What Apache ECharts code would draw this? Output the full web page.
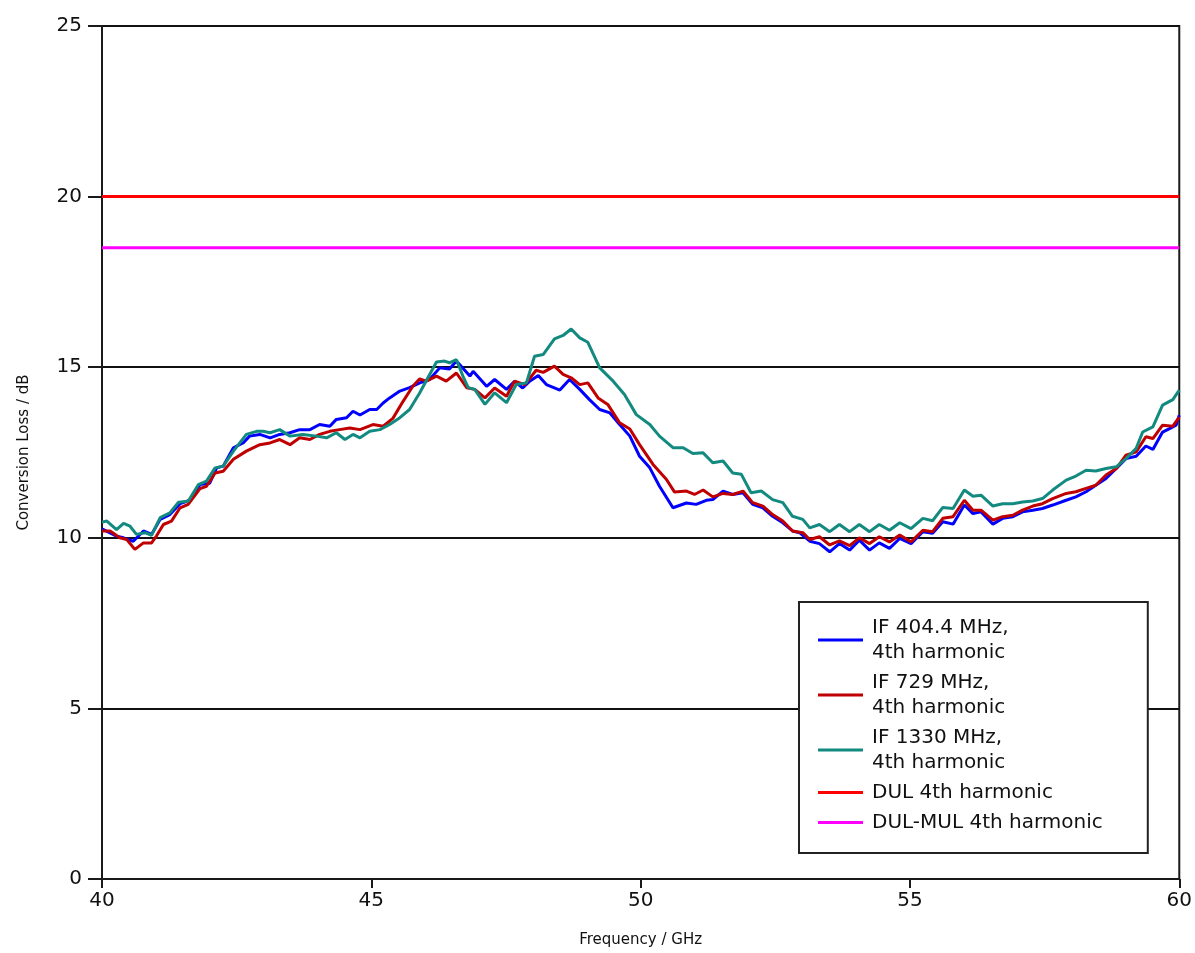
<!DOCTYPE html>
<html>
<head>
<meta charset="utf-8">
<script src="https://cdn.jsdelivr.net/npm/echarts@6/dist/echarts.min.js"></script>
<style>
html,body{margin:0;padding:0;background:#fff;}
#chart{width:1195px;height:953px;}
</style>
</head>
<body>
<div id="chart"></div>
<script>
// Frequency / GHz ticks and conversion loss / dB ticks
const xTicks = [40, 45, 50, 55, 60];
const yTicks = [0, 5, 10, 15, 20, 25];

const seriesNames = [
  'IF 404.4 MHz,\n4th harmonic',
  'IF 729 MHz,\n4th harmonic',
  'IF 1330 MHz,\n4th harmonic',
  'DUL 4th harmonic',
  'DUL-MUL 4th harmonic'
];

// [frequency GHz, conversion loss dB]
const if404 = [
[40.00,10.26],[40.27,10.05],[40.40,10.0],[40.58,9.9],[40.77,10.2],[40.92,10.1],[41.08,10.54],[41.26,10.68],[41.45,11.0],[41.63,11.1],
[41.82,11.56],[42.00,11.6],[42.13,12.05],[42.25,12.1],[42.44,12.64],[42.62,12.78],[42.74,12.98],[42.93,13.03],[43.12,12.93],[43.30,13.03],
[43.49,13.08],[43.67,13.17],[43.86,13.17],[44.04,13.32],[44.23,13.27],[44.35,13.47],[44.54,13.52],[44.66,13.71],[44.79,13.6],[44.97,13.76],
[45.10,13.76],[45.22,13.95],[45.34,14.1],[45.53,14.3],[45.71,14.4],[45.90,14.54],[46.08,14.64],[46.27,14.98],[46.45,14.95],[46.58,15.18],
[46.83,14.74],[46.89,14.88],[47.14,14.44],[47.29,14.64],[47.51,14.35],[47.66,14.59],[47.81,14.39],[47.94,14.59],[48.10,14.76],[48.25,14.49],
[48.50,14.33],[48.68,14.64],[48.87,14.35],[49.05,14.05],[49.24,13.76],[49.43,13.66],[49.61,13.32],[49.80,12.98],[49.98,12.39],[50.17,12.05],
[50.35,11.51],[50.60,10.88],[50.85,11.02],[51.03,10.98],[51.22,11.1],[51.34,11.12],[51.53,11.37],[51.71,11.27],[51.90,11.32],[52.08,10.98],
[52.27,10.88],[52.45,10.63],[52.64,10.44],[52.82,10.2],[52.95,10.15],[53.14,9.9],[53.32,9.83],[53.51,9.59],[53.69,9.83],[53.88,9.64],
[54.06,9.93],[54.25,9.64],[54.43,9.85],[54.62,9.69],[54.81,9.98],[55.02,9.83],[55.24,10.18],[55.42,10.13],[55.61,10.47],[55.80,10.4],
[56.01,10.96],[56.17,10.71],[56.32,10.76],[56.54,10.4],[56.72,10.57],[56.91,10.62],[57.09,10.76],[57.28,10.81],[57.46,10.86],[57.65,10.96],
[57.90,11.1],[58.08,11.2],[58.27,11.35],[58.45,11.54],[58.64,11.74],[58.83,12.03],[59.01,12.32],[59.20,12.39],[59.38,12.69],[59.51,12.59],
[59.69,13.1],[59.82,13.2],[59.94,13.3],[60.00,13.59]
];

const if729 = [
[40.00,10.2],[40.15,10.2],[40.33,10.0],[40.46,9.95],[40.61,9.66],[40.77,9.85],[40.92,9.85],[41.01,10.05],[41.14,10.39],[41.29,10.49],
[41.45,10.88],[41.60,10.98],[41.82,11.44],[41.94,11.51],[42.10,11.9],[42.25,11.95],[42.44,12.3],[42.68,12.54],[42.93,12.73],[43.12,12.78],
[43.30,12.88],[43.49,12.73],[43.67,12.93],[43.86,12.88],[44.04,13.03],[44.23,13.12],[44.41,13.17],[44.60,13.22],[44.79,13.17],[45.03,13.32],
[45.22,13.27],[45.40,13.5],[45.59,14.0],[45.77,14.44],[45.90,14.66],[46.02,14.59],[46.21,14.74],[46.39,14.59],[46.58,14.83],[46.77,14.4],
[46.92,14.35],[47.11,14.1],[47.29,14.39],[47.51,14.15],[47.66,14.59],[47.85,14.49],[48.06,14.91],[48.19,14.85],[48.40,15.03],[48.56,14.79],
[48.71,14.69],[48.87,14.49],[49.02,14.54],[49.21,14.1],[49.39,13.91],[49.61,13.37],[49.80,13.19],[49.98,12.73],[50.23,12.15],[50.48,11.71],
[50.63,11.34],[50.85,11.37],[51.00,11.27],[51.16,11.4],[51.34,11.2],[51.53,11.3],[51.71,11.27],[51.90,11.37],[52.08,11.03],[52.27,10.93],
[52.45,10.68],[52.64,10.49],[52.82,10.2],[53.01,10.15],[53.14,9.95],[53.32,10.03],[53.51,9.79],[53.69,9.91],[53.88,9.77],[54.06,10.0],
[54.25,9.83],[54.43,10.03],[54.62,9.88],[54.81,10.08],[55.02,9.88],[55.24,10.22],[55.42,10.18],[55.61,10.57],[55.80,10.62],[56.01,11.1],
[56.17,10.81],[56.32,10.81],[56.54,10.52],[56.72,10.62],[56.91,10.66],[57.09,10.81],[57.28,10.93],[57.46,11.0],[57.65,11.15],[57.90,11.3],
[58.08,11.35],[58.27,11.45],[58.45,11.54],[58.64,11.84],[58.83,12.03],[59.01,12.42],[59.20,12.52],[59.38,12.96],[59.51,12.91],[59.69,13.3],
[59.88,13.27],[60.00,13.54]
];

const if1330 = [
[40.00,10.46],[40.09,10.49],[40.27,10.24],[40.40,10.42],[40.52,10.34],[40.64,10.1],[40.80,10.15],[40.92,10.07],[41.08,10.59],[41.26,10.73],
[41.42,11.04],[41.60,11.07],[41.79,11.56],[41.94,11.66],[42.10,12.05],[42.25,12.1],[42.44,12.54],[42.68,13.03],[42.87,13.12],[42.99,13.12],
[43.12,13.08],[43.30,13.17],[43.49,12.98],[43.73,13.03],[43.98,12.98],[44.17,12.93],[44.35,13.08],[44.51,12.88],[44.66,13.03],[44.79,12.93],
[44.97,13.12],[45.16,13.17],[45.34,13.32],[45.53,13.52],[45.71,13.76],[45.90,14.25],[46.05,14.69],[46.21,15.15],[46.36,15.18],[46.45,15.13],
[46.58,15.22],[46.70,14.74],[46.80,14.4],[46.92,14.35],[47.11,13.91],[47.29,14.25],[47.51,13.96],[47.69,14.49],[47.88,14.54],[48.03,15.32],
[48.19,15.37],[48.40,15.83],[48.56,15.93],[48.71,16.12],[48.87,15.86],[49.02,15.73],[49.24,14.98],[49.49,14.59],[49.70,14.2],[49.92,13.61],
[50.17,13.32],[50.35,12.98],[50.60,12.64],[50.79,12.64],[50.97,12.47],[51.16,12.49],[51.34,12.2],[51.53,12.25],[51.71,11.9],[51.87,11.86],
[52.05,11.32],[52.24,11.37],[52.45,11.12],[52.64,11.03],[52.82,10.63],[53.01,10.54],[53.14,10.29],[53.32,10.39],[53.51,10.18],[53.69,10.39],
[53.88,10.18],[54.06,10.39],[54.25,10.18],[54.43,10.39],[54.62,10.22],[54.81,10.44],[55.02,10.27],[55.24,10.57],[55.42,10.5],[55.61,10.89],
[55.80,10.86],[56.01,11.4],[56.17,11.22],[56.32,11.25],[56.54,10.93],[56.72,11.0],[56.91,11.0],[57.09,11.05],[57.28,11.08],[57.46,11.15],
[57.65,11.4],[57.90,11.69],[58.08,11.81],[58.27,11.98],[58.45,11.96],[58.64,12.03],[58.83,12.08],[59.01,12.32],[59.20,12.62],[59.32,13.1],
[59.51,13.25],[59.69,13.89],[59.88,14.05],[60.00,14.33]
];

const dul = [[40, 20], [60, 20]];
const dulMul = [[40, 18.5], [60, 18.5]];

const colors = ['#0000ff', '#c00000', '#128a80', '#ff0000', '#ff00ff'];
const seriesData = [if404, if729, if1330, dul, dulMul];

const chart = echarts.init(document.getElementById('chart'), null, {renderer: 'canvas'});
const font = 'DejaVu Sans';
const axisColor = '#1a1a1a';

chart.setOption({
  animation: false,
  backgroundColor: '#ffffff',
  grid: {
    left: 102, top: 26, width: 1078, height: 853,
    show: true, borderColor: axisColor, borderWidth: 2, backgroundColor: 'transparent'
  },
  legend: {
    orient: 'vertical',
    left: 799, top: 602,
    data: seriesNames,
    icon: 'rect',
    itemWidth: 45, itemHeight: 3,
    itemGap: 5,
    padding: [13, 45, 18, 19],
    backgroundColor: '#ffffff',
    borderColor: '#222222', borderWidth: 2,
    textStyle: {fontFamily: font, fontSize: 20, color: '#111', lineHeight: 25, padding: [0, 0, 0, 4]}
  },
  xAxis: {
    type: 'value', min: xTicks[0], max: xTicks[xTicks.length - 1], interval: 5,
    name: 'Frequency / GHz', nameLocation: 'middle', nameGap: 54,
    nameTextStyle: {fontFamily: font, fontSize: 15, color: '#111'},
    axisLine: {show: true, lineStyle: {color: axisColor, width: 2}},
    axisTick: {show: true, inside: false, length: 9, lineStyle: {color: axisColor, width: 2}},
    axisLabel: {fontFamily: font, fontSize: 20, color: '#111', margin: 12},
    splitLine: {show: false}
  },
  yAxis: {
    type: 'value', min: yTicks[0], max: yTicks[yTicks.length - 1], interval: 5,
    name: 'Conversion Loss / dB', nameLocation: 'middle', nameGap: 70,
    nameTextStyle: {fontFamily: font, fontSize: 15, color: '#111'},
    axisLine: {show: true, lineStyle: {color: axisColor, width: 2}},
    axisTick: {show: true, inside: false, length: 14, lineStyle: {color: axisColor, width: 2}},
    axisLabel: {fontFamily: font, fontSize: 20, color: '#111', margin: 20},
    splitLine: {show: true, lineStyle: {color: '#111', width: 2}}
  },
  series: seriesData.map((d, i) => ({
    name: seriesNames[i],
    type: 'line',
    data: d,
    symbol: 'none',
    smooth: false,
    color: colors[i],
    lineStyle: {color: colors[i], width: 3},
    z: 3 + i
  }))
});
</script>
</body>
</html>
